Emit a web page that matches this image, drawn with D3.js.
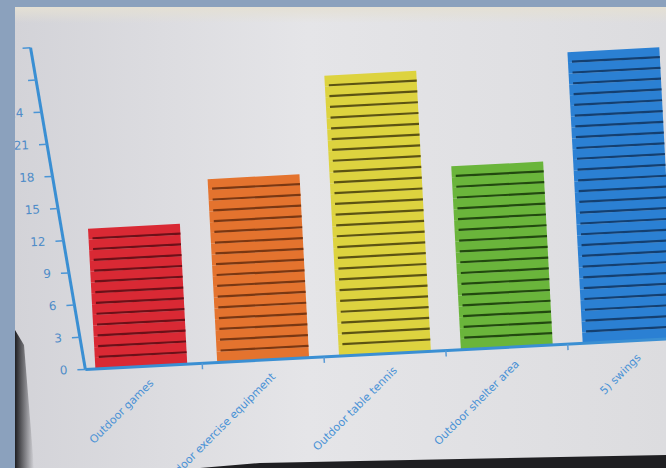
<!DOCTYPE html>
<html lang="en">
  <head>
    <title>Outdoor Equipment Bar Chart</title>
    <meta charset="utf-8">
    <script src="https://d3js.org/d3.v7.min.js"></script>
    <style>
      body {
        margin: 0;
        background: #8ba1bd;
      }
      svg {
        display: block;
      }
      .y-axis text {
        font-family: "DejaVu Sans", sans-serif;
        font-size: 12px;
        fill: #4f8cc8;
      }
      .x-axis text {
        font-family: "DejaVu Sans", sans-serif;
        font-size: 11px;
        fill: #4a92d6;
      }
    </style>
  </head>
  <body>
    <div id="main"></div>
    <script>
      var categories = ["Outdoor games", "Outdoor exercise equipment", "Outdoor table tennis", "Outdoor shelter area", "5) swings"];
      var counts = [13, 17, 26, 17, 27];
      var barColors = ["#d92934", "#e4732e", "#ddd33f", "#6ab53b", "#2b80d3"];
      var stripeColors = ["#6c1018", "#7a3712", "#5c5312", "#22490f", "#143f70"];
      var yTicks = [0, 3, 6, 9, 12, 15, 18, 21, 24, 27, 30];

      var width = 666, height = 468;
      var x0 = 85, y0 = 355, lean = 0.117;

      var svg = d3.select("#main").append("svg")
        .attr("width", width)
        .attr("height", height);

      var defs = svg.append("defs");
      var screenGrad = defs.append("linearGradient").attr("id", "screen")
        .attr("x1", "0").attr("x2", "1").attr("y1", "0").attr("y2", "0");
      screenGrad.append("stop").attr("offset", "0").attr("stop-color", "#d3d3d8");
      screenGrad.append("stop").attr("offset", "0.45").attr("stop-color", "#e5e5e8");
      screenGrad.append("stop").attr("offset", "1").attr("stop-color", "#dcdcdf");
      var topGrad = defs.append("linearGradient").attr("id", "topband")
        .attr("x1", "0").attr("x2", "0").attr("y1", "0").attr("y2", "1");
      topGrad.append("stop").attr("offset", "0").attr("stop-color", "#e4e0d4");
      topGrad.append("stop").attr("offset", "1").attr("stop-color", "#e4e0d4").attr("stop-opacity", 0);
      var cornerGrad = defs.append("linearGradient").attr("id", "corner")
        .attr("x1", "0").attr("x2", "1").attr("y1", "0").attr("y2", "0");
      cornerGrad.append("stop").attr("offset", "0").attr("stop-color", "#1e1e22");
      cornerGrad.append("stop").attr("offset", "1").attr("stop-color", "#1e1e22").attr("stop-opacity", 0);

      // screen surface
      svg.append("rect")
        .attr("x", 15).attr("y", 7)
        .attr("width", width - 15).attr("height", height - 7)
        .attr("fill", "url(#screen)");
      svg.append("rect")
        .attr("x", 15).attr("y", 7)
        .attr("width", width - 15).attr("height", 16)
        .attr("fill", "url(#topband)");

      var x = d3.scaleBand()
        .domain(categories)
        .range([x0, 685])
        .paddingInner(0.246)
        .paddingOuter(0.082);

      var y = d3.scaleLinear()
        .domain([0, 30])
        .range([y0, y0 - 324]);

      var g = svg.append("g").attr("transform", "rotate(-3, 360, 355)");//tilt like the photo

      var data = categories.map(function(c, i) {
        return {name: c, value: counts[i], color: barColors[i], stripe: stripeColors[i]};
      });

      var bars = g.selectAll(".bar").data(data).enter().append("g")
        .attr("class", "bar");

      bars.selectAll("rect").data(function(d) {
          return d3.range(d.value).map(function(j) { return {j: j, d: d}; });
        }).enter().append("rect")
        .attr("x", function(b) { return x(b.d.name); })
        .attr("y", function(b) { return y(b.j + 1); })
        .attr("width", x.bandwidth())
        .attr("height", function(b) { return y(b.j) - y(b.j + 1); })
        .attr("fill", function(b) { return b.d.color; });//unit blocks

      bars.selectAll("line").data(function(d) {
          return d3.range(1, d.value).map(function(j) { return {j: j, d: d}; });
        }).enter().append("line")
        .attr("x1", function(b) { return x(b.d.name) + 4; })
        .attr("x2", function(b) { return x(b.d.name) + x.bandwidth(); })
        .attr("y1", function(b) { return y(b.j) - 1; })
        .attr("y2", function(b) { return y(b.j) - 1; })
        .attr("stroke", function(b) { return b.d.stripe; })
        .attr("stroke-width", 2.2);//dark seams between blocks

      // y axis, leaning left like the photographed screen
      var yAxis = g.append("g").attr("class", "y-axis")
        .call(d3.axisLeft(y).tickValues(yTicks).tickSize(8).tickPadding(10).tickSizeOuter(0)
          .tickFormat(function(d) { return d > 24 ? "" : d; }));//top labels fall outside the photo
      yAxis.selectAll(".tick")
        .attr("transform", function(d) { return "translate(" + (x0 - lean * (y0 - y(d))) + "," + y(d) + ")"; });
      yAxis.selectAll(".tick line").attr("stroke", "#4a95d6").attr("stroke-width", 1.5);
      yAxis.select(".domain")
        .attr("d", "M" + x0 + "," + y0 + "L" + (x0 - lean * (y0 - y(30))) + "," + y(30))
        .attr("stroke", "#3a8fd3")
        .attr("stroke-width", 3);

      // x axis
      var xAxis = g.append("g").attr("class", "x-axis")
        .attr("transform", "translate(0," + y0 + ")")
        .call(d3.axisBottom(x).tickSize(0).tickPadding(0).tickSizeOuter(0));
      xAxis.select(".domain")
        .attr("d", "M" + x0 + ",0H" + 720)
        .attr("stroke", "#3a8fd3")
        .attr("stroke-width", 3);
      xAxis.selectAll(".tick text")
        .attr("text-anchor", "end")
        .attr("dy", "0")
        .attr("transform", "translate(12,18) rotate(-42)");
      var gap = x.step() - x.bandwidth();
      xAxis.selectAll(".sep").data(categories.slice(0, -1)).enter().append("line")
        .attr("class", "sep")
        .attr("x1", function(d) { return x(d) + x.bandwidth() + gap / 2; })
        .attr("x2", function(d) { return x(d) + x.bandwidth() + gap / 2; })
        .attr("y1", 0).attr("y2", 6)
        .attr("stroke", "#5a9bd6")
        .attr("stroke-width", 1.5);

      // photo frame and monitor bezel over the edges
      svg.append("path")
        .attr("d", "M15,330 L24,345 L34,468 L15,468 Z")
        .attr("fill", "url(#corner)");
      svg.append("rect").attr("x", 0).attr("y", 0).attr("width", 15).attr("height", height).attr("fill", "#8ba1bd");
      svg.append("rect").attr("x", 0).attr("y", 0).attr("width", width).attr("height", 7).attr("fill", "#8ba1bd");
      svg.append("path")
        .attr("d", "M200,468 L260,463 L666,455 L666,468 Z")
        .attr("fill", "#1f1f22");
    </script>
  </body>
</html>
